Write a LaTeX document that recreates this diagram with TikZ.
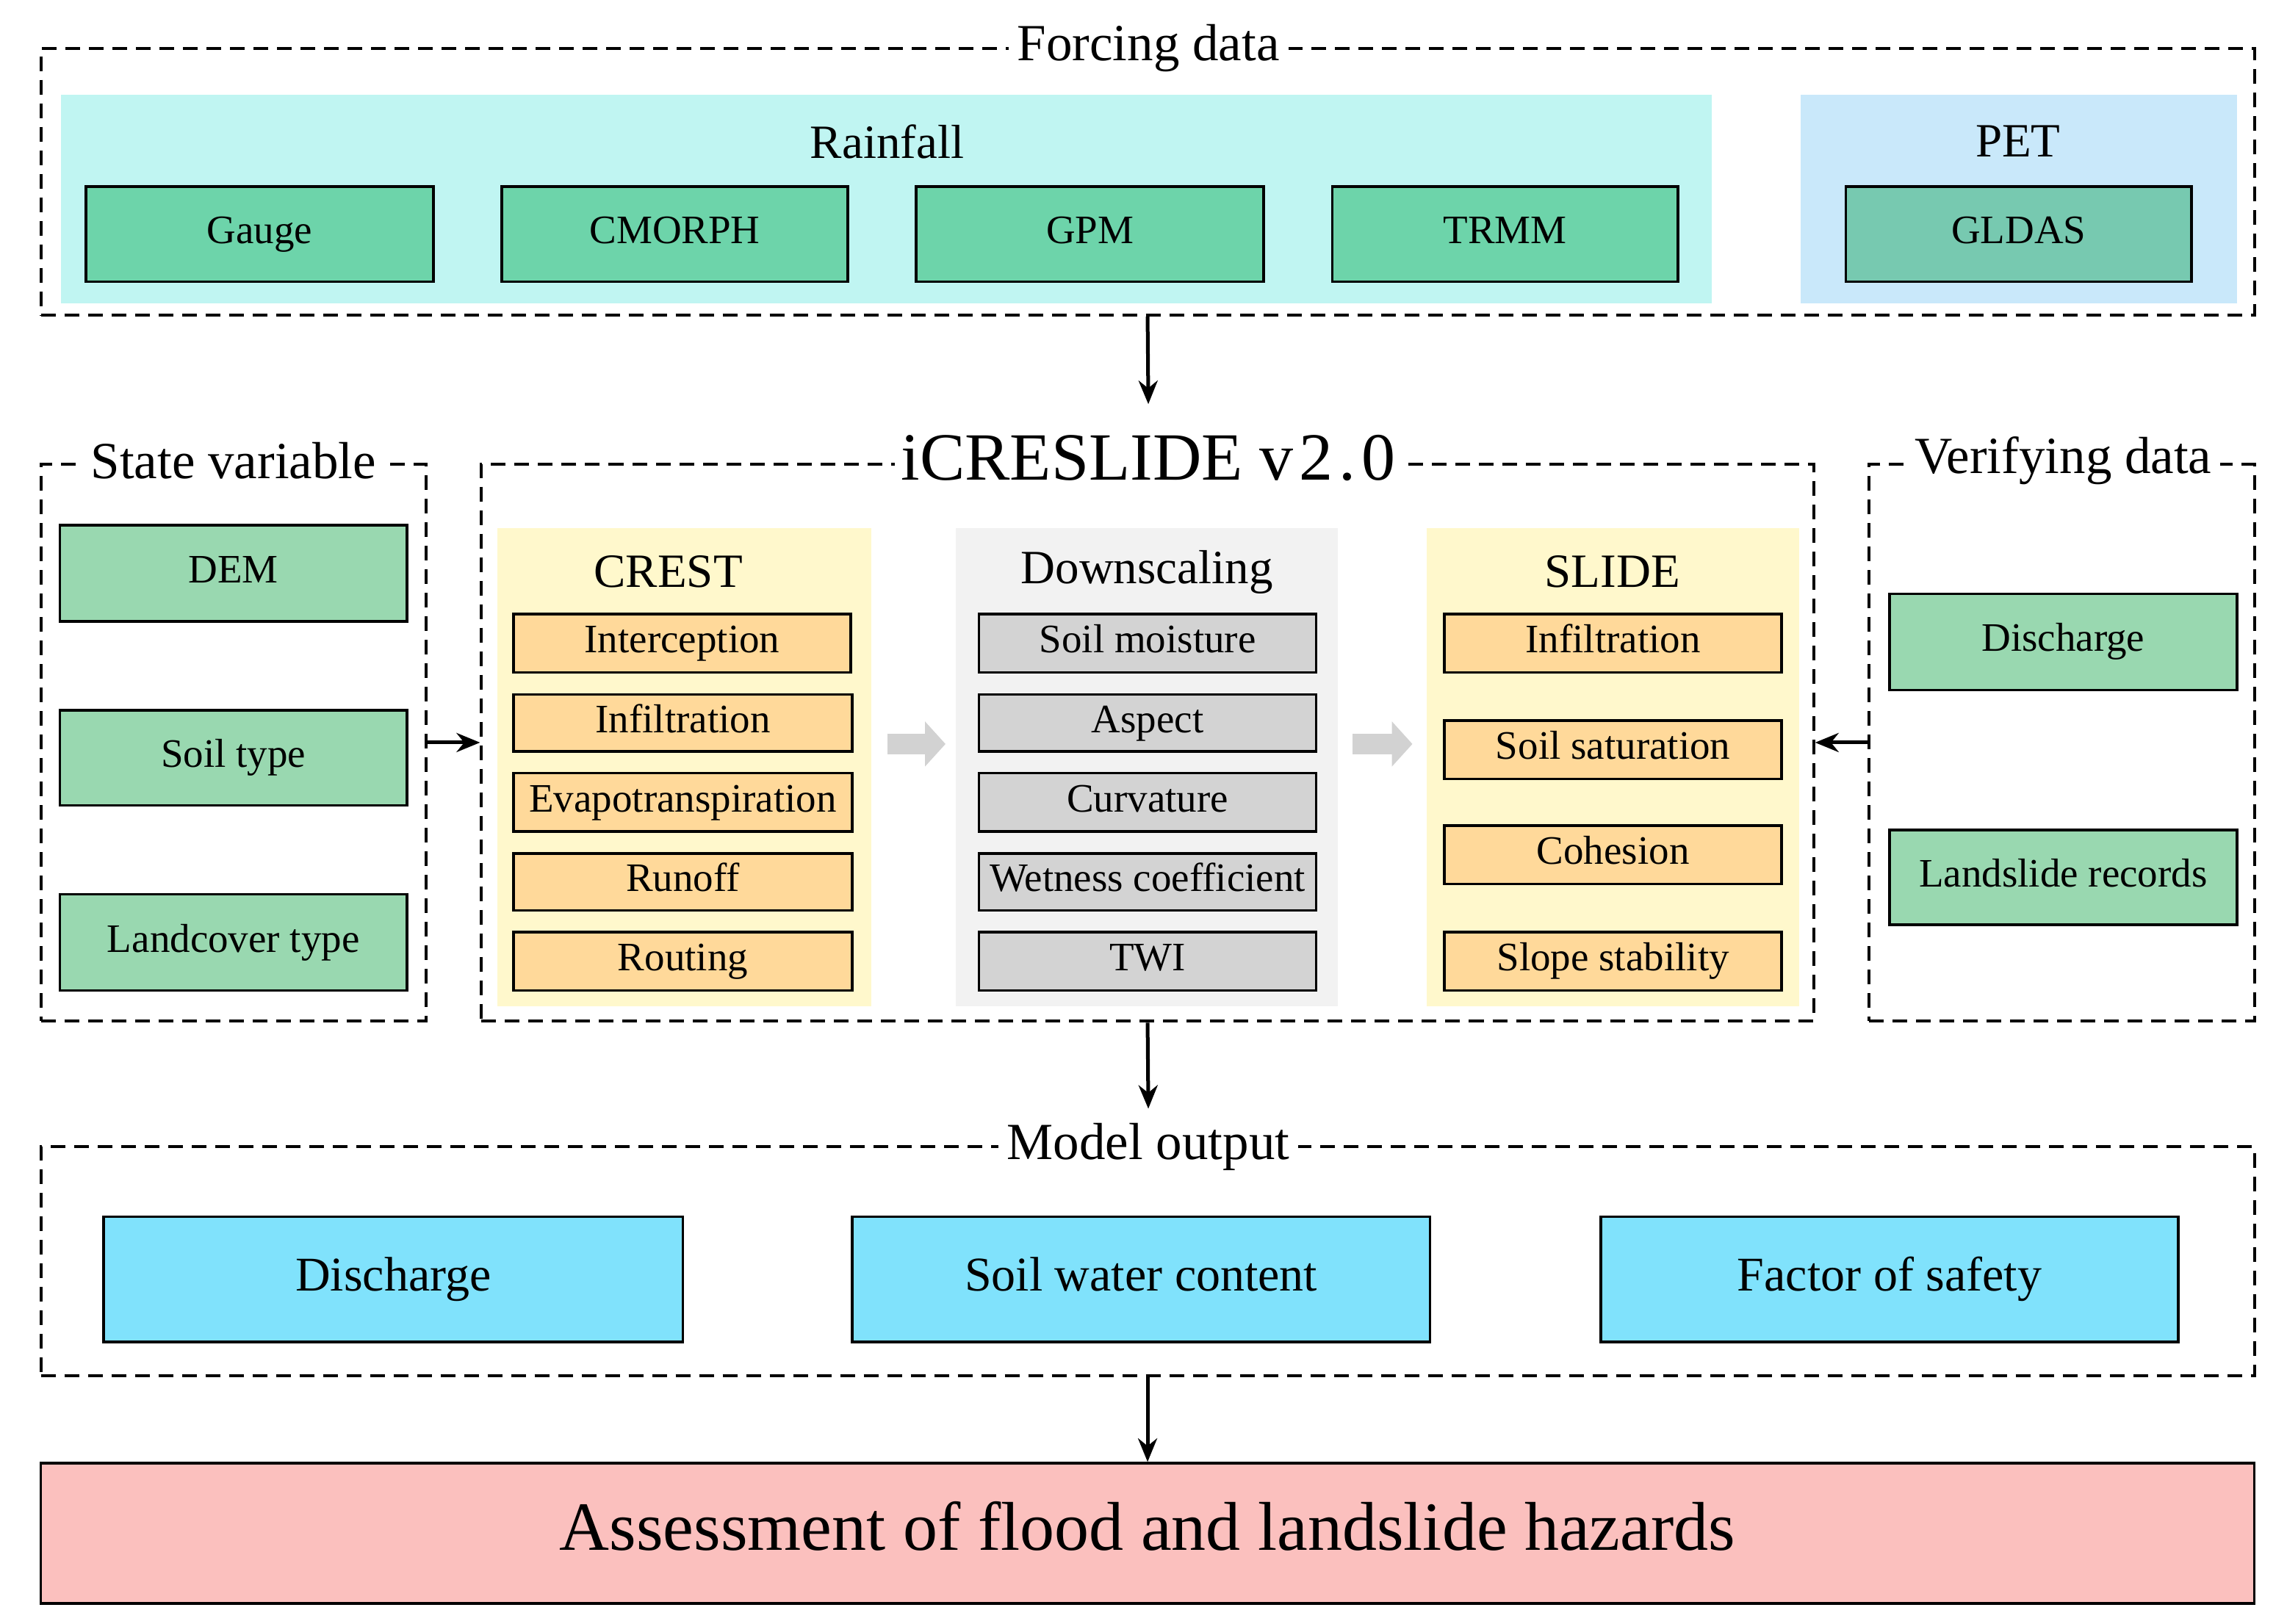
\documentclass[tikz,border=0pt]{standalone}
\usepackage{fontspec}
\setmainfont{Liberation Serif}
\usetikzlibrary{arrows.meta}
\begin{document}
\begin{tikzpicture}[x=0.993pt,y=-0.993pt,
 dbox/.style={draw,line width=2pt,dash pattern=on 10pt off 6pt,inner sep=0},
 panel/.style={draw=none,inner sep=0},
 box/.style={draw,line width=1.8pt,inner sep=0,text height=19pt,text depth=6pt,font=\fontsize{27.5}{29}\selectfont},
 obox/.style={box,text height=23pt,text depth=7pt,font=\fontsize{33}{35}\selectfont},
 ttl/.style={fill=white,inner sep=6pt,font=\fontsize{35.5}{37}\selectfont},
 ptl/.style={font=\fontsize{32.5}{34}\selectfont},
 arr/.style={-{Stealth[length=16pt,width=13pt]},line width=2.5pt},
 garr/.style={line width=14pt,draw=gray!35,-{Triangle[length=14pt,width=30pt]}}]
\newcommand\bx[7]{\node[#1,minimum width={0.993*(#4-#2)},minimum height={0.993*(#5-#3)}] (#6) at ({(#2+#4)/2},{(#3+#5)/2}) {#7};}
\definecolor{rain}{HTML}{C0F5F2}\definecolor{pet}{HTML}{C9E8FA}
\definecolor{gr1}{HTML}{6DD4AA}\definecolor{gr2}{HTML}{77C9B0}\definecolor{gr3}{HTML}{99D8B0}
\definecolor{crest}{HTML}{FFF8CC}\definecolor{item}{HTML}{FFD99A}
\definecolor{dgray}{HTML}{D3D3D3}\definecolor{lgray}{HTML}{F2F2F2}
\definecolor{outc}{HTML}{80E2FC}\definecolor{ass}{HTML}{FBC0BE}
\useasboundingbox (0,0) rectangle (1567.4,1113);
% Forcing
\bx{dbox}{28}{33}{1545}{216}{forc}{}
\bx{panel,fill=rain}{42}{65}{1173}{208}{rainp}{}
\bx{panel,fill=pet}{1234}{65}{1533}{208}{petp}{}
\node[ttl] at (787,33) {Forcing data};
\node[ptl] at (608,97) {Rainfall};
\node[ptl] at (1383,97) {PET};
\bx{box,fill=gr1}{59}{128}{297}{193}{g1}{Gauge}
\bx{box,fill=gr1}{344}{128}{581}{193}{g2}{CMORPH}
\bx{box,fill=gr1}{628}{128}{866}{193}{g3}{GPM}
\bx{box,fill=gr1}{913}{128}{1150}{193}{g4}{TRMM}
\bx{box,fill=gr2}{1265}{128}{1502}{193}{g5}{GLDAS}
% State
\bx{dbox}{28}{318}{292}{700}{state}{}
\node[ttl] at (160,316) {State variable};
\bx{box,fill=gr3}{41}{360}{279}{426}{s1}{DEM}
\bx{box,fill=gr3}{41}{487}{279}{552}{s2}{Soil type}
\bx{box,fill=gr3}{41}{613}{279}{679}{s3}{Landcover type}
% Model
\bx{dbox}{330}{318}{1243}{700}{model}{}
\node[ttl,font=\fontsize{46}{48}\selectfont,inner sep=4pt] at (787,314) {iCRESLIDE v\kern4pt2\kern4pt.\kern4pt0};
\bx{panel,fill=crest}{341}{362}{597}{690}{cp}{}
\bx{panel,fill=lgray}{655}{362}{917}{690}{dp}{}
\bx{panel,fill=crest}{978}{362}{1233}{690}{sp}{}
\node[ptl] at (458,392) {CREST};
\node[ptl] at (786,392) {Downscaling};
\node[ptl] at (1105,392) {SLIDE};
\bx{box,fill=item}{352}{421}{583}{461}{c1}{Interception}
\bx{box,fill=item}{352}{476}{584}{515}{c2}{Infiltration}
\bx{box,fill=item}{352}{530}{584}{570}{c3}{Evapotranspiration}
\bx{box,fill=item}{352}{585}{584}{624}{c4}{Runoff}
\bx{box,fill=item}{352}{639}{584}{679}{c5}{Routing}
\bx{box,fill=dgray}{671}{421}{902}{461}{d1}{Soil moisture}
\bx{box,fill=dgray}{671}{476}{902}{515}{d2}{Aspect}
\bx{box,fill=dgray}{671}{530}{902}{570}{d3}{Curvature}
\bx{box,fill=dgray}{671}{585}{902}{624}{d4}{Wetness coefficient}
\bx{box,fill=dgray}{671}{639}{902}{679}{d5}{TWI}
\bx{box,fill=item}{990}{421}{1221}{461}{l1}{Infiltration}
\bx{box,fill=item}{990}{494}{1221}{534}{l2}{Soil saturation}
\bx{box,fill=item}{990}{566}{1221}{606}{l3}{Cohesion}
\bx{box,fill=item}{990}{639}{1221}{679}{l4}{Slope stability}
\coordinate (ga1) at (608,510); \coordinate (gb1) at (648,510);
\coordinate (ga2) at (927,510); \coordinate (gb2) at (968,510);
\draw[garr] (ga1) -- (gb1);
\draw[garr] (ga2) -- (gb2);
% Verifying
\bx{dbox}{1281}{318}{1545}{700}{ver}{}
\node[ttl] at (1414,316) {Verifying data};
\bx{box,fill=gr3}{1295}{407}{1533}{473}{v1}{Discharge}
\bx{box,fill=gr3}{1295}{569}{1533}{634}{v2}{Landslide records}
% Output
\bx{dbox}{28}{786}{1545}{943}{outb}{}
\node[ttl] at (787,786) {Model output};
\bx{obox,fill=outc}{71}{834}{468}{920}{o1}{Discharge}
\bx{obox,fill=outc}{584}{834}{980}{920}{o2}{Soil water content}
\bx{obox,fill=outc}{1097}{834}{1493}{920}{o3}{Factor of safety}
\bx{box,fill=ass,text height=33pt,text depth=10pt,font=\fontsize{47}{49}\selectfont}{28}{1003}{1545}{1099}{assb}{Assessment of flood and landslide hazards}
% arrows
\coordinate (t1) at (787,277);
\coordinate (t2) at (787,760);
\draw[arr] (forc.south) -- (t1);
\draw[arr] (state.east) -- (model.west);
\draw[arr] (ver.west) -- (model.east);
\draw[arr] (model.south) -- (t2);
\draw[arr] (outb.south) -- (assb.north);
\end{tikzpicture}
\end{document}
